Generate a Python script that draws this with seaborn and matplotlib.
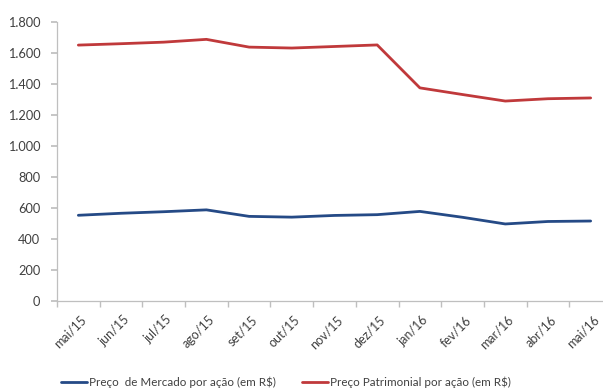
import matplotlib
matplotlib.use("Agg")
import matplotlib.pyplot as plt
import matplotlib.transforms as mtrans
import seaborn as sns
import pandas as pd

months = ["mai/15", "jun/15", "jul/15", "ago/15", "set/15", "out/15", "nov/15",
          "dez/15", "jan/16", "fev/16", "mar/16", "abr/16", "mai/16"]
mercado = [553, 566, 576, 588, 546, 541, 552, 557, 578, 540, 497, 513, 516]
patrimonial = [1651, 1660, 1670, 1688, 1638, 1632, 1642, 1652, 1375, 1332, 1290, 1305, 1310]

s_merc = "Preço  de Mercado por ação (em R$)"
s_patr = "Preço Patrimonial por ação (em R$)"

df = pd.DataFrame({
    "mes": months * 2,
    "x": list(range(len(months))) * 2,
    "valor": mercado + patrimonial,
    "serie": [s_merc] * len(months) + [s_patr] * len(months),
})

sns.set_theme(style="white")
plt.rcParams["font.family"] = ["Lato", "DejaVu Sans"]

fig = plt.figure(figsize=(6.03, 3.90), dpi=100)
ax = fig.add_axes([57 / 603, 1 - 301 / 390, (612 - 57) / 603, (301 - 22) / 390])

sns.lineplot(data=df, x="x", y="valor", hue="serie",
             palette={s_merc: "#254a86", s_patr: "#c0393b"},
             linewidth=2.0, ax=ax, legend=True)

ax.set_xlim(-0.5, len(months) - 0.5)
ax.set_ylim(0, 1800)
ax.set_yticks(range(0, 1801, 200))
ax.set_yticklabels([f"{v:,}".replace(",", ".") for v in range(0, 1801, 200)],
                   fontsize=9.2, color="#404040")
ax.set_xticks(range(len(months)))
ax.set_xticklabels(months, rotation=45, ha="right", rotation_mode="anchor",
                   fontsize=9, color="#404040")
ax.set_xticks([i + 0.5 for i in range(-1, len(months))], minor=True)
ax.tick_params(axis="x", which="major", length=0, pad=9)
ax.tick_params(axis="x", which="minor", length=4, color="#bfbfbf", direction="out", bottom=True)
ax.tick_params(axis="y", length=4, color="#bfbfbf", direction="out", left=True, pad=8)
ax.set_xlabel("")
ax.set_ylabel("")
for side in ["top", "right"]:
    ax.spines[side].set_visible(False)
for side in ["left", "bottom"]:
    ax.spines[side].set_color("#bfbfbf")
    ax.spines[side].set_linewidth(0.9)

offset = mtrans.ScaledTranslation(2 / 100, 0, fig.dpi_scale_trans)
for lbl in ax.get_xticklabels():
    lbl.set_transform(lbl.get_transform() + offset)

handles, labels = ax.get_legend_handles_labels()
ax.legend_.remove()
fig.legend(handles, labels, loc="center", bbox_to_anchor=(286 / 603, 1 - 382 / 390),
           ncol=2, frameon=False, fontsize=8.4, handlelength=2.2, handletextpad=0.15,
           columnspacing=2.3, labelcolor="#404040")

fig.savefig("out.png", dpi=100)
